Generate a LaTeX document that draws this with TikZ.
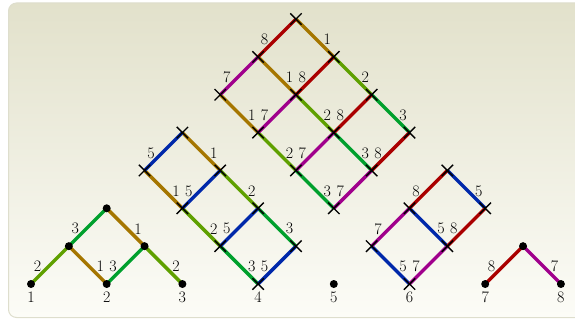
\documentclass[tikz,border=0pt]{standalone}
\usetikzlibrary{shapes.misc}
\pgfdeclarelayer{bgl}
\pgfdeclarelayer{edl}
\pgfsetlayers{bgl,edl,main}
\definecolor{col1}{RGB}{165,118,0}
\definecolor{col2}{RGB}{95,160,0}
\definecolor{col3}{RGB}{0,160,45}
\definecolor{col5}{RGB}{0,40,170}
\definecolor{col7}{RGB}{160,0,140}
\definecolor{col8}{RGB}{170,0,0}
\definecolor{bgtop}{RGB}{226,225,203}
\definecolor{bgbot}{RGB}{252,252,247}
\definecolor{bgline}{RGB}{222,222,205}
\begin{document}
\begin{tikzpicture}[x=1pt,y=-1pt,
  edge/.style={line width=3.4pt},
  xmark/.style={cross out,draw=black,line width=1.4pt,minimum size=10pt,inner sep=0pt},
  dotm/.style={circle,fill=black,minimum size=8pt,inner sep=0pt},
  lab/.style={font=\fontsize{16}{19}\selectfont,inner sep=0pt},
  ll/.style={lab,midway,xshift=-12.5pt,yshift=-1.5pt},
  rl/.style={lab,midway,xshift=12.5pt,yshift=-1.5pt}]
\useasboundingbox (0,0) rectangle (575,321);
\clip (0,0) rectangle (575,321);
\begin{pgfonlayer}{bgl}
  \draw[draw=bgline,line width=1pt,rounded corners=8pt,top color=bgtop,bottom color=bgbot] (8.5,3) rectangle (600,317.5);
\end{pgfonlayer}

% cluster 1 (dots)
\node[dotm] (a1) at (31,284) {};
\node[dotm] (a2) at (68.85,246.15) {};
\node[dotm] (a3) at (106.7,208.3) {};
\node[dotm] (a4) at (144.55,246.15) {};
\node[dotm] (a5) at (106.7,284) {};
\node[dotm] (a6) at (182.4,284) {};
\begin{pgfonlayer}{edl}
  \draw[edge,draw=col2] (a1.center) -- node[ll]{2} (a2.center);
  \draw[edge,draw=col3] (a2.center) -- node[ll]{3} (a3.center);
  \draw[edge,draw=col1] (a3.center) -- node[rl]{1} (a4.center);
  \draw[edge,draw=col1] (a2.center) -- node[rl]{1} (a5.center);
  \draw[edge,draw=col3] (a5.center) -- node[ll]{3} (a4.center);
  \draw[edge,draw=col2] (a4.center) -- node[rl]{2} (a6.center);
\end{pgfonlayer}

% cluster 2
\foreach \i in {0,...,3}{\foreach \j in {0,1}{
  \node[xmark] (b\i\j) at ({182.4+(\i-\j)*37.85},{132.6+(\i+\j)*37.85}) {};}}
\begin{pgfonlayer}{edl}
  \foreach \i [evaluate=\i as \n using int(\i+1)] in {0,1,2}{\foreach \j in {0,1}{
    \draw[edge,draw=col\n] (b\i\j.center) -- node[rl]{\n} (b\n\j.center);}}
  \foreach \i in {0,...,3}{
    \draw[edge,draw=col5] (b\i1.center) -- node[ll]{5} (b\i0.center);}
\end{pgfonlayer}

% cluster 3
\foreach \i in {0,...,3}{\foreach \j in {0,1,2}{
  \node[xmark] (c\i\j) at ({295.95+(\i-\j)*37.85},{19.05+(\i+\j)*37.85}) {};}}
\begin{pgfonlayer}{edl}
  \foreach \i [evaluate=\i as \n using int(\i+1)] in {0,1,2}{\foreach \j in {0,1,2}{
    \draw[edge,draw=col\n] (c\i\j.center) -- node[rl]{\n} (c\n\j.center);}}
  \foreach \i in {0,...,3}{
    \draw[edge,draw=col8] (c\i1.center) -- node[ll]{8} (c\i0.center);
    \draw[edge,draw=col7] (c\i2.center) -- node[ll]{7} (c\i1.center);}
\end{pgfonlayer}

% cluster 4
\foreach \i in {0,1}{\foreach \j in {0,1,2}{
  \node[xmark] (e\i\j) at ({447.35+(\i-\j)*37.85},{170.45+(\i+\j)*37.85}) {};}}
\begin{pgfonlayer}{edl}
  \foreach \j in {0,1,2}{
    \draw[edge,draw=col5] (e0\j.center) -- node[rl]{5} (e1\j.center);}
  \foreach \i in {0,1}{
    \draw[edge,draw=col8] (e\i1.center) -- node[ll]{8} (e\i0.center);
    \draw[edge,draw=col7] (e\i2.center) -- node[ll]{7} (e\i1.center);}
\end{pgfonlayer}

% point 5
\node[dotm] (g) at (333.8,284) {};

% cluster 5
\node[dotm] (f1) at (485.2,284) {};
\node[dotm] (f2) at (523.05,246.15) {};
\node[dotm] (f3) at (560.9,284) {};
\begin{pgfonlayer}{edl}
  \draw[edge,draw=col8] (f1.center) -- node[ll]{8} (f2.center);
  \draw[edge,draw=col7] (f2.center) -- node[rl]{7} (f3.center);
\end{pgfonlayer}

% bottom labels
\foreach \k in {1,...,8}{
  \node[lab] (n\k) at ({31+(\k-1)*75.7},297.5) {\k};}
\end{tikzpicture}
\end{document}
